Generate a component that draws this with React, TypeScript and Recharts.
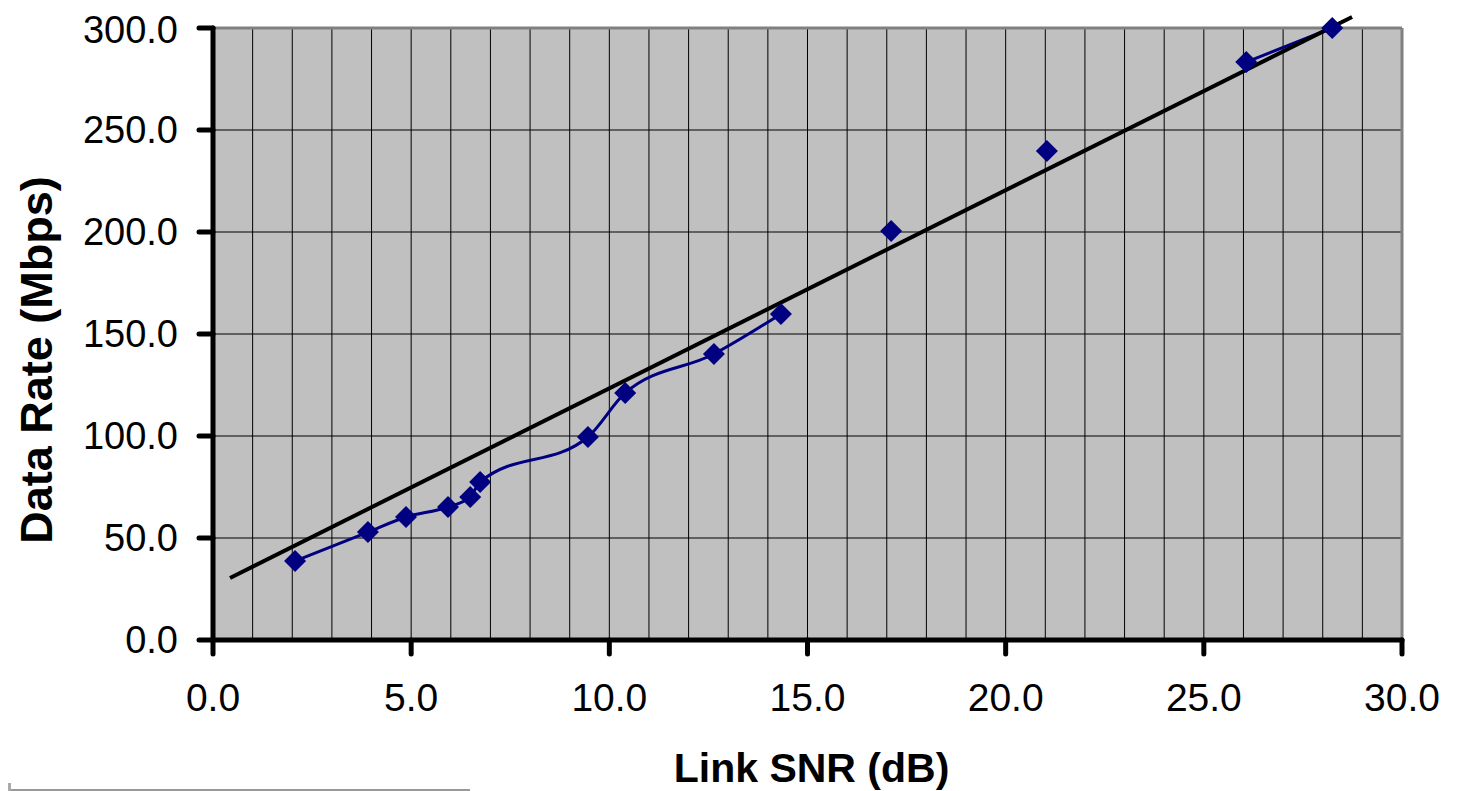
import {
  ComposedChart,
  Line,
  Scatter,
  XAxis,
  YAxis,
  CartesianGrid,
  ReferenceLine,
} from 'recharts'

const snr = [2.07, 3.91, 4.87, 5.93, 6.49, 6.74, 9.46, 10.4, 12.64, 14.33, 17.11, 21.04, 26.07, 28.24]
const dataRate = [38.7, 52.9, 60.3, 65.2, 70.1, 77.5, 99.5, 121.1, 140.2, 159.8, 200.5, 239.7, 283.3, 300.0]
// the smoothed curve only runs over these index ranges (inclusive)
const curveRuns = [
  [0, 9],
  [12, 13],
]
const trendSnr = [0.43, 28.74]
const trendRate = [30.4, 305.4]

const xTicks = [0, 5, 10, 15, 20, 25, 30]
const yTicks = [0, 50, 100, 150, 200, 250, 300]
const xGrid = [1, 2, 3, 4, 5, 6, 7, 8, 9, 10, 11, 12, 13, 14, 15, 16, 17, 18, 19, 20, 21, 22, 23, 24, 25, 26, 27, 28, 29]
const yGrid = [50, 100, 150, 200, 250]

const NAVY = '#000080'
const FONT = '"Liberation Sans", Arial, sans-serif'

const points = snr.map((x, i) => ({ x, y: dataRate[i] }))
const runs = curveRuns.map(([a, b]) => points.slice(a, b + 1))

function Diamond(props: any) {
  const { cx, cy } = props
  const r = 11
  return <path d={`M${cx},${cy - r}L${cx + r},${cy}L${cx},${cy + r}L${cx - r},${cy}Z`} fill={NAVY} />
}

function YTitle(props: any) {
  const { viewBox } = props
  const cy = viewBox.y + viewBox.height / 2 + 26
  const cx = 28
  return (
    <text
      x={cx}
      y={cy}
      transform={`rotate(-90, ${cx}, ${cy})`}
      textAnchor="middle"
      dominantBaseline="central"
      fontFamily={FONT}
      fontWeight="bold"
      fontSize={45}
      fill="#000"
    >
      Data Rate (Mbps)
    </text>
  )
}

function XTitle(props: any) {
  const { viewBox } = props
  return (
    <text
      x={viewBox.x + viewBox.width / 2 + 4}
      y={774}
      textAnchor="middle"
      fontFamily={FONT}
      fontWeight="bold"
      fontSize={41}
      fill="#000"
    >
      Link SNR (dB)
    </text>
  )
}

export default function App() {
  return (
    <div style={{ position: 'relative', width: 1451, height: 783 }}>
      <ComposedChart width={1451} height={783} margin={{ top: 20, right: 57, left: 0, bottom: 0 }}>
        <CartesianGrid
          fill="#C0C0C0"
          stroke="#000"
          strokeWidth={1}
          horizontalValues={yGrid}
          verticalValues={xGrid}
        />
        <XAxis
          type="number"
          dataKey="x"
          domain={[0, 30]}
          ticks={xTicks}
          tickFormatter={(v: number) => v.toFixed(1)}
          height={151}
          tickSize={14}
          tickMargin={29}
          axisLine={{ stroke: '#000', strokeWidth: 5, strokeLinecap: 'round' }}
          tickLine={{ stroke: '#000', strokeWidth: 5, strokeLinecap: 'round' }}
          tick={{ fill: '#000', fontSize: 39, fontFamily: FONT }}
          label={<XTitle />}
        />
        <YAxis
          type="number"
          dataKey="y"
          domain={[0, 300]}
          ticks={yTicks}
          tickFormatter={(v: number) => v.toFixed(1)}
          width={205}
          tickSize={14}
          tickMargin={21}
          axisLine={{ stroke: '#000', strokeWidth: 5, strokeLinecap: 'round' }}
          tickLine={{ stroke: '#000', strokeWidth: 5, strokeLinecap: 'round' }}
          tick={{ fill: '#000', fontSize: 38, fontFamily: FONT }}
          label={<YTitle />}
        />
        <ReferenceLine y={300} stroke="#808080" strokeWidth={3} />
        <ReferenceLine x={30} stroke="#808080" strokeWidth={3} />
        {runs.map((run, i) => (
          <Line
            key={i}
            data={run}
            dataKey="y"
            type="monotone"
            stroke={NAVY}
            strokeWidth={3}
            dot={false}
            activeDot={false}
            isAnimationActive={false}
          />
        ))}
        <Scatter data={points} dataKey="y" fill={NAVY} shape={<Diamond />} isAnimationActive={false} />
        <ReferenceLine
          segment={[
            { x: trendSnr[0], y: trendRate[0] },
            { x: trendSnr[1], y: trendRate[1] },
          ]}
          ifOverflow="visible"
          stroke="#000"
          strokeWidth={4}
        />
      </ComposedChart>
      <div style={{ position: 'absolute', left: -8, top: 781, width: 470, height: 2, background: '#999' }} />
      <div style={{ position: 'absolute', left: -8, top: 775, width: 11, height: 8, background: '#aaa' }} />
    </div>
  )
}
